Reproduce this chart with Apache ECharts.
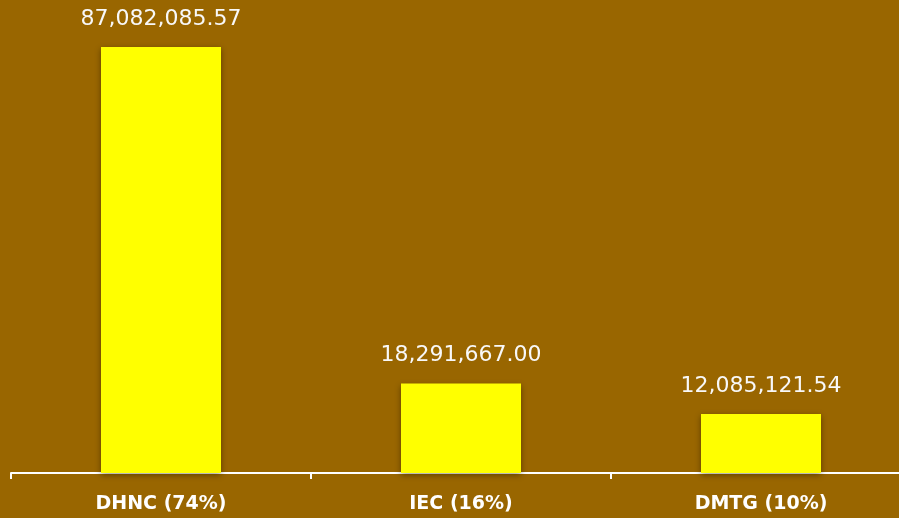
<!DOCTYPE html>
<html><head><meta charset="utf-8">
<script src="https://cdn.jsdelivr.net/npm/echarts@6/dist/echarts.min.js"></script>
<style>html,body{margin:0;padding:0;background:#996600;overflow:hidden;width:899px;height:518px;}#c{width:911px;height:518px;}</style>
</head><body><div id="c"></div>
<script>
const categories = ['DHNC (74%)', 'IEC (16%)', 'DMTG (10%)'];
const values = [87082085.57, 18291667.00, 12085121.54];

const chart = echarts.init(document.getElementById('c'), null, {renderer: 'canvas'});
chart.setOption({
  backgroundColor: '#996600',
  animation: false,
  grid: {left: 11, right: 0, top: 47, bottom: 45, containLabel: false},
  xAxis: {
    type: 'category',
    data: categories,
    axisLine: {show: true, lineStyle: {color: '#ffffff', width: 2}},
    axisTick: {show: true, length: 6, lineStyle: {color: '#ffffff', width: 2}},
    axisLabel: {color: '#ffffff', fontWeight: 'bold', fontSize: 19, fontFamily: '"DejaVu Sans", sans-serif', margin: 22}
  },
  yAxis: {
    type: 'value', min: 0, max: 'dataMax', show: false,
    splitLine: {show: false}
  },
  series: [{
    type: 'bar',
    data: values,
    barWidth: '40%',
    itemStyle: {color: '#ffff00', shadowColor: 'rgba(0,0,0,0.4)', shadowBlur: 6, shadowOffsetY: 2},
    label: {
      show: true, position: 'top', distance: 17,
      color: '#f8f8f8', fontSize: 22, fontFamily: '"DejaVu Sans", sans-serif',
      formatter: p => p.value.toLocaleString('en-US', {minimumFractionDigits: 2, maximumFractionDigits: 2})
    }
  }]
});
</script></body></html>
